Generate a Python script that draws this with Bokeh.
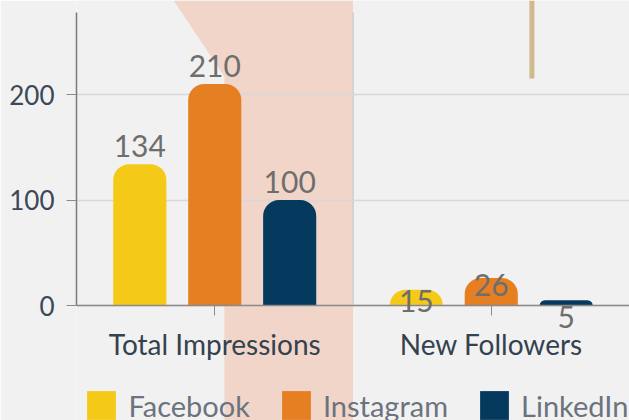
from bokeh.plotting import figure
from bokeh.models import (ColumnDataSource, FactorRange, Range1d, LabelSet, Legend, LegendItem,
                          PolyAnnotation, BoxAnnotation, FixedTicker)
from bokeh.core.properties import value
from bokeh.transform import dodge
from bokeh.embed import file_html
from bokeh.resources import INLINE

# ---- data ----
categories = ["Total Impressions", "New Followers"]
series = ["Facebook", "Instagram", "LinkedIn"]
facebook = [134, 15]
instagram = [210, 26]
linkedin = [100, 5]
y_ticks = [0, 100, 200]
y_max = 277.7

# ---- style ----
colors = ["#F5C918", "#E67E22", "#053A5E"]
label_offsets = [[18, -11], [18, -7], [18, -17]]   # px, per series/category
dodges = [-0.271, 0.0, 0.271]
bar_width = 0.192
BG = "#F1F1F1"
FONT = "Lato"

p = figure(x_range=FactorRange(*categories, range_padding=0), y_range=Range1d(-109.0, 289.1),
           width=629, height=420, output_backend="svg", toolbar_location=None,
           min_border_left=76, min_border_right=0, min_border_top=0, min_border_bottom=0)
p.background_fill_color = BG
p.border_fill_color = BG
p.outline_line_color = None

# decorative band and line
band = PolyAnnotation(xs=[0.351, 0.535, 0.535, 1.0, 1.0], ys=[289.1, 217.1, -109, -109, 289.1],
                      fill_color="#F1D5C9", fill_alpha=1.0, line_color=None, level="image")
p.add_layout(band)
p.add_layout(BoxAnnotation(left=1.638, right=1.656, bottom=215.2, top=289.1,
                           fill_color="#D1B98F", fill_alpha=1.0, line_color=None, level="image"))
sep = p.segment(x0=[1.0], y0=[0], x1=[1.0], y1=[y_max], line_color="#D3D3D3", line_width=2)
sep.level = "underlay"

renderers = []
for i, (name, vals) in enumerate(zip(series, [facebook, instagram, linkedin])):
    src = ColumnDataSource(dict(x=categories, top=vals, lab=[str(v) for v in vals],
                                off=label_offsets[i]))
    r = p.vbar(x=dodge("x", dodges[i], range=p.x_range), top="top", bottom=0, width=bar_width,
               source=src, fill_color=colors[i], line_color=None,
               border_radius=(16, 16, 0, 0))
    renderers.append(r)
    labels = LabelSet(x=dodge("x", dodges[i], range=p.x_range), y="top", text="lab",
                      y_offset="off", source=src, text_align="center", text_baseline="middle",
                      text_font=value(FONT), text_font_size=value("30px"), text_color=value("#6E6E6E"))
    p.add_layout(labels)

# axes
p.yaxis.ticker = FixedTicker(ticks=y_ticks)
p.yaxis.bounds = (0, y_max)
p.yaxis.major_label_text_font = FONT
p.yaxis.major_label_text_font_size = "26px"
p.yaxis.major_label_text_color = "#3B4858"
p.yaxis.axis_line_color = "#7A7A7A"
p.yaxis.axis_line_width = 1.5
p.yaxis.major_tick_line_color = "#8A8A8A"
p.yaxis.major_tick_out = 10
p.yaxis.major_tick_in = 0
p.yaxis.minor_tick_line_color = None
p.yaxis.major_label_standoff = 12

p.xaxis.fixed_location = 0
p.xaxis.major_label_text_font = FONT
p.xaxis.major_label_text_font_size = "28px"
p.xaxis.major_label_text_color = "#34414F"
p.xaxis.axis_line_color = "#8A8A8A"
p.xaxis.axis_line_width = 1.5
p.xaxis.major_tick_line_color = "#8A8A8A"
p.xaxis.major_tick_out = 10
p.xaxis.major_tick_in = 0
p.xaxis.major_label_standoff = 11

p.xgrid.grid_line_color = None
p.ygrid.grid_line_color = "#D8D8D8"
p.ygrid.grid_line_width = 1.5
p.ygrid.bounds = (0, y_max)

legend = Legend(items=[LegendItem(label=s, renderers=[r]) for s, r in zip(series, renderers)],
                orientation="horizontal", location=(7.4, -3.4), padding=0, margin=0,
                spacing=28, label_standoff=9, glyph_width=36, glyph_height=36,
                label_text_font=FONT, label_text_font_size="29px", label_text_color="#6C737D",
                background_fill_alpha=0, border_line_color=None)
p.add_layout(legend)

open("out.html", "w").write(file_html(p, INLINE))
